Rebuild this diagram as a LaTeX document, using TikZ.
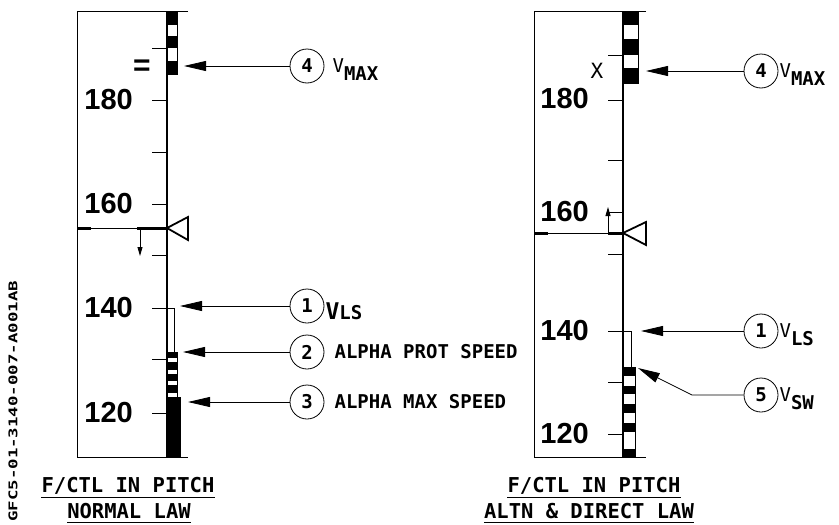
\documentclass[tikz,border=0pt]{standalone}
\usepackage{fontspec}
\setmainfont{DejaVu Sans Mono}
\newfontfamily\numfont{Liberation Sans}
\usetikzlibrary{calc,arrows.meta,positioning}
\newcommand{\vlabel}[1]{{\mdseries\fontsize{19}{19}\selectfont V}\raisebox{-8pt}{\bfseries\fontsize{19}{19}\selectfont #1}}

\begin{document}
\begin{tikzpicture}[x=1pt,y=-1pt,>={Triangle[length=22pt,width=10pt]},
    frame/.style={line width=1pt},
    tape/.style={line width=1.4pt},
    num/.style={font=\numfont\bfseries\fontsize{29}{29}\selectfont,inner sep=0pt,anchor=east},
    callout/.style={circle,draw,line width=0.8pt,minimum size=34pt,inner sep=0pt,
      font=\bfseries\fontsize{19}{19}\selectfont},
    lbl/.style={inner sep=0pt,anchor=west,font=\bfseries\fontsize{19}{19}\selectfont},
    pointer/.style={->,line width=0.8pt},
    smallptr/.style={-{Triangle[length=9pt,width=5pt]},line width=0.8pt},
    title/.style={inner sep=0pt,anchor=base,font=\bfseries\fontsize{20.5}{20.5}\selectfont}]
  \useasboundingbox (0,0) rectangle (839,525);

  % figure reference
  \node[rotate=90,anchor=west,inner sep=0pt,font=\bfseries\fontsize{12}{12}\selectfont]
    (figid) at (13,522) {\scalebox{1.45}[1]{GFC5-01-3140-007-A001AB}};

  % ---- normal law ----
  \begin{scope}
    \draw[frame] (188,11) -- (77,11) -- (77,457) -- (188,457);
    \draw[tape] (167,11) -- (167,457);
    \foreach \y in {48,100,152,204,255,359,413}
      \draw[frame] (152,\y) -- (167,\y);
    \node[num] (n180l) at (133,100) {180};
    \node[num] (n160l) at (133,204) {160};
    \node[num] (n140l) at (133,308) {140};
    \node[num] (n120l) at (133,413) {120};
    \node[inner sep=0pt,font=\numfont\bfseries\fontsize{30}{30}\selectfont] (eql) at (142,68) {=};
    % VMAX band
    \draw[frame] (167,11) rectangle (177,74);
    \foreach \a/\b in {11/25,36/48,61/74}
      \fill (167,\a) rectangle (177,\b);
    % speed target
    \draw[frame] (77,228) -- (167,228);
    \draw[line width=3pt] (77,228) -- (91,228) (137,228) -- (167,228);
    \draw[line width=1.8pt,line join=miter] (167,228) -- (188,217) -- (188,240) -- cycle;
    \coordinate (trl) at (140,228);
    \coordinate (trendl) at (140,256);
    \draw[smallptr] (trl) -- (trendl);
    % VLS, alpha prot, alpha max
    \draw[frame] (152,308) -- (174,308) -- (174,352);
    \draw[frame] (167,352) rectangle (177,397);
    \foreach \a/\b in {352/358,362/370,374/381,385/393}
      \fill (167,\a) rectangle (177,\b);
    \fill (167,397) rectangle (181,457);
    % callouts
    \node[callout] (c4l) at (307,66) {4};
    \node[callout] (c1l) at (307,306) {1};
    \node[callout] (c2l) at (307,352) {2};
    \node[callout] (c3l) at (307,402) {3};
    \coordinate (tip4l) at (184,66);
    \coordinate (tip1l) at (180,306);
    \coordinate (tip2l) at (183,352);
    \coordinate (tip3l) at (188,402);
    \draw[pointer] (c4l) -- (tip4l);
    \draw[pointer] (c1l) -- (tip1l);
    \draw[pointer] (c2l) -- (tip2l);
    \draw[pointer] (c3l) -- (tip3l);
    \node[lbl,anchor=base west] (t4l) at ($(c4l.east)+(8,6)$) {\vlabel{MAX}};
    \node[lbl,anchor=base west] (t1l) at ($(c1l.east)+(1,13)$)
      {{\fontsize{23}{23}\selectfont V}{\fontsize{19}{19}\selectfont LS}};
    \node[lbl,right=10pt of c2l] (t2l) {ALPHA PROT SPEED};
    \node[lbl,right=10pt of c3l] (t3l) {ALPHA MAX SPEED};
    % title
    \node[title] (h1l) at (128,492) {F/CTL IN PITCH};
    \node[title] (h2l) at (129,518) {NORMAL LAW};
    \draw[frame] ($(h1l.base west)+(0,5)$) -- ($(h1l.base east)+(0,5)$);
    \draw[frame] ($(h2l.base west)+(0,4)$) -- ($(h2l.base east)+(0,4)$);
  \end{scope}

  % ---- altn & direct law ----
  \begin{scope}
    \draw[frame] (646,11) -- (534,11) -- (534,457) -- (646,457);
    \draw[tape] (623,11) -- (623,457);
    \foreach \y in {55,100,160,212,254,382,434}
      \draw[frame] (608,\y) -- (623,\y);
    \node[num] (n180r) at (589,99) {180};
    \node[num] (n160r) at (589,212) {160};
    \node[num] (n140r) at (589,331) {140};
    \node[num] (n120r) at (589,434) {120};
    \node[inner sep=0pt,font=\fontsize{21}{21}\selectfont] (xr) at (597,71) {X};
    % VMAX band
    \draw[frame] (623,11) rectangle (638,83);
    \foreach \a/\b in {11/25,39/55,68/83}
      \fill (623,\a) rectangle (638,\b);
    % speed target
    \draw[frame] (534,233) -- (623,233);
    \draw[line width=3pt] (534,233) -- (548,233) (608,233) -- (623,233);
    \draw[line width=1.8pt,line join=miter] (623,233) -- (646,222) -- (646,245) -- cycle;
    \coordinate (trr) at (608,233);
    \coordinate (trendr) at (608,207);
    \draw[smallptr] (trr) -- (trendr);
    % VLS, VSW
    \draw[frame] (608,331) -- (631,331) -- (631,367);
    \draw[frame] (623,367) rectangle (635,457);
    \foreach \a/\b in {367/376,386/394,404/413,423/432,449/457}
      \fill (623,\a) rectangle (635,\b);
    % callouts
    \node[callout] (c4r) at (761,71) {4};
    \node[callout] (c1r) at (761,331) {1};
    \node[callout] (c5r) at (761,395) {5};
    \coordinate (tip4r) at (646,71);
    \coordinate (tip1r) at (641,331);
    \coordinate (bend5r) at (692,395);
    \coordinate (tip5r) at (638,368);
    \draw[pointer] (c4r) -- (tip4r);
    \draw[pointer] (c1r) -- (tip1r);
    \draw[pointer] (c5r) -- (bend5r) -- (tip5r);
    \node[lbl,anchor=base west] (t4r) at ($(c4r.east)+(1,6)$) {\vlabel{MAX}};
    \node[lbl,anchor=base west] (t1r) at ($(c1r.east)+(1,6)$) {\vlabel{LS}};
    \node[lbl,anchor=base west] (t5r) at ($(c5r.east)+(1,6)$) {\vlabel{SW}};
    % title
    \node[title] (h1r) at (594,492) {F/CTL IN PITCH};
    \node[title] (h2r) at (589,518) {ALTN \& DIRECT LAW};
    \draw[frame] ($(h1r.base west)+(0,5)$) -- ($(h1r.base east)+(0,5)$);
    \draw[frame] ($(h2r.base west)+(0,4)$) -- ($(h2r.base east)+(0,4)$);
  \end{scope}
\end{tikzpicture}
\end{document}
